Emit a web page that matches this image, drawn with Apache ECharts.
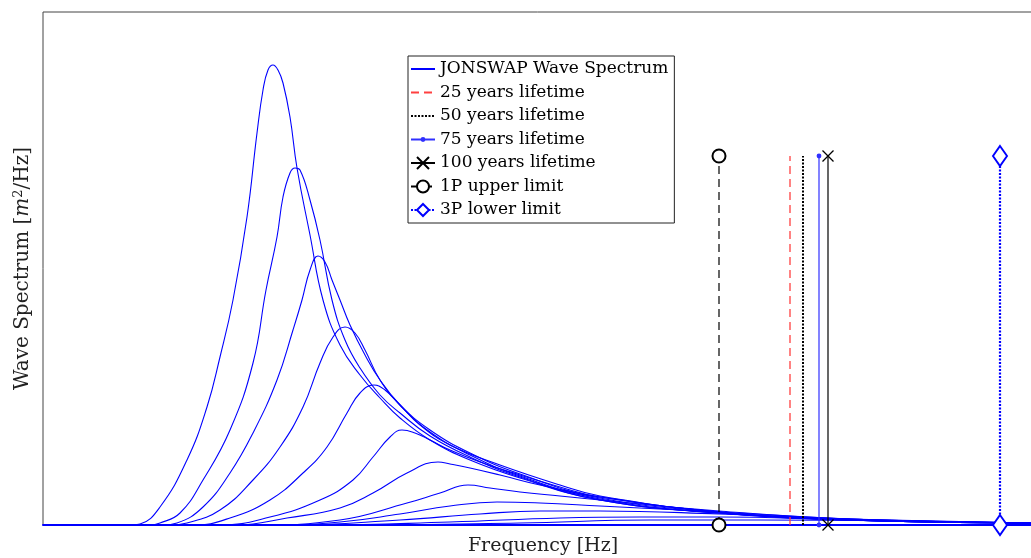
<!DOCTYPE html>
<html>
<head>
<meta charset="utf-8">
<script src="https://cdn.jsdelivr.net/npm/echarts@6/dist/echarts.min.js"></script>
<style>
  html, body { margin: 0; padding: 0; background: #fff; }
  #chart { width: 1031px; height: 558px; }
</style>
</head>
<body>
<div id="chart"></div>
<script>
// JONSWAP spectra, [frequency, spectrum]
const spectrum1 = [[0,0],[.087,0],[.097,.01],[.117,.18],[.144,.65],[.164,1.18],[.177,1.68],[.190,2.25],[.204,3.08],[.214,3.92],[.220,4.35],[.225,4.55],[.230,4.60],[.235,4.55],[.240,4.42],[.247,4.08],[.254,3.57],[.267,2.90],[.280,2.25],[.297,1.80],[.317,1.50],[.337,1.27],[.357,1.07],[.387,.85],[.427,.65],[.477,.47],[.557,.25],[.676,.12],[.807,.06],[.988,.02]];
const spectrum2 = [[0,0],[.107,0],[.117,.02],[.137,.12],[.160,.45],[.187,.95],[.210,1.62],[.223,2.35],[.234,2.88],[.240,3.28],[.247,3.52],[.252,3.57],[.257,3.55],[.267,3.25],[.277,2.85],[.289,2.25],[.302,1.85],[.317,1.57],[.337,1.30],[.357,1.12],[.387,.89],[.427,.68],[.477,.48],[.557,.25],[.676,.12],[.807,.05],[.988,.02]];
const spectrum3 = [[0,0],[.120,0],[.134,.02],[.160,.18],[.187,.52],[.210,.92],[.234,1.45],[.250,1.95],[.259,2.25],[.267,2.55],[.275,2.69],[.282,2.63],[.289,2.45],[.297,2.25],[.307,2.00],[.322,1.70],[.337,1.45],[.357,1.20],[.387,.93],[.427,.70],[.477,.49],[.557,.26],[.676,.12],[.807,.05],[.988,.02]];
const spectrum4 = [[0,0],[.127,0],[.144,.02],[.177,.15],[.210,.45],[.237,.78],[.260,1.18],[.277,1.62],[.290,1.88],[.302,1.98],[.312,1.92],[.322,1.75],[.337,1.45],[.357,1.20],[.387,.95],[.427,.72],[.477,.51],[.557,.27],[.676,.13],[.807,.05],[.988,.02]];
const spectrum5 = [[0,0],[.150,0],[.187,.07],[.227,.25],[.260,.52],[.284,.78],[.304,1.12],[.317,1.32],[.331,1.40],[.342,1.35],[.357,1.20],[.377,1.00],[.407,.80],[.457,.60],[.517,.40],[.557,.29],[.676,.13],[.807,.05],[.988,.02]];
const spectrum6 = [[0,0],[.177,0],[.227,.08],[.277,.25],[.310,.45],[.330,.68],[.347,.88],[.359,.95],[.372,.92],[.387,.85],[.407,.75],[.437,.63],[.477,.50],[.517,.38],[.557,.28],[.676,.13],[.807,.05],[.988,.02]];
const spectrum7 = [[0,0],[.194,0],[.244,.07],[.297,.17],[.330,.32],[.364,.52],[.395,.63],[.407,.61],[.427,.57],[.457,.50],[.497,.40],[.557,.28],[.676,.13],[.807,.05],[.988,.02]];
const spectrum8 = [[0,0],[.217,0],[.297,.05],[.364,.22],[.397,.32],[.425,.40],[.447,.37],[.477,.33],[.517,.29],[.557,.25],[.676,.14],[.807,.06],[.988,.02]];
const spectrum9 = [[0,0],[.227,0],[.297,.03],[.357,.11],[.407,.19],[.454,.23],[.497,.22],[.557,.19],[.676,.13],[.807,.06],[.988,.02]];
const spectrum10 = [[0,0],[.247,0],[.357,.05],[.437,.11],[.497,.14],[.557,.14],[.676,.11],[.807,.06],[.988,.02]];
const spectrum11 = [[0,0],[.277,0],[.407,.03],[.517,.07],[.597,.08],[.676,.08],[.807,.05],[.988,.02]];
const spectrum12 = [[0,0],[.307,0],[.477,.02],[.607,.05],[.717,.05],[.988,.02]];
const spectra = [spectrum1, spectrum2, spectrum3, spectrum4, spectrum5, spectrum6,
  spectrum7, spectrum8, spectrum9, spectrum10, spectrum11, spectrum12];

// frequency limits
const lineTop = 3.69;
const lifetimeNames = ['25 years lifetime', '50 years lifetime', '75 years lifetime', '100 years lifetime'];
const lifetimeFreqs = [0.747, 0.760, 0.776, 0.785];
const upper1P = 0.676;
const lower3P = 0.957;

const blue = '#0000ff';
const serif = 'DejaVu Serif';
// marker shapes (corner points fix the box so the glyph keeps its size)
const noMark = 'path://M0,0L0,0M10,10L10,10';
const dotMark = 'path://M0,0L0,0M10,10L10,10M3,5a2,2 0 1,0 4,0a2,2 0 1,0 -4,0z';
const crossMark = 'path://M0,0L10,10M10,0L0,10';

function vline(name, f, lineStyle, symbol, symbolSize, itemStyle) {
  return {
    name: name,
    type: 'line',
    data: [[f, 0], [f, lineTop]],
    lineStyle: lineStyle,
    symbol: symbol,
    symbolSize: symbolSize,
    showSymbol: symbol !== noMark,
    itemStyle: itemStyle,
    clip: false,
    z: 5
  };
}

const series = spectra.map(s => ({
  name: 'JONSWAP Wave Spectrum',
  type: 'line',
  data: s,
  smooth: 0.45,
  symbol: noMark,
  showSymbol: false,
  lineStyle: { color: blue, width: 1.1 },
  itemStyle: { color: blue }
}));

series.push(vline(lifetimeNames[0], lifetimeFreqs[0], { color: '#ff4040', width: 1.3, type: [8, 5] }, noMark, 8, { color: '#ff4040' }));
series.push(vline(lifetimeNames[1], lifetimeFreqs[1], { color: '#000', width: 2, type: [2, 1.5] }, noMark, 8, { color: '#000' }));
series.push(vline(lifetimeNames[2], lifetimeFreqs[2], { color: '#3030ff', width: 1.2, type: 'solid' }, dotMark, 12, { color: '#3030ff', borderWidth: 0 }));
series.push(vline(lifetimeNames[3], lifetimeFreqs[3], { color: '#000', width: 1.2, type: 'solid' }, crossMark, 11, { color: '#000', borderColor: '#000', borderWidth: 1.3 }));
series.push(vline('1P upper limit', upper1P, { color: '#000', width: 1.2, type: [8, 5] }, 'emptyCircle', 13, { color: '#000', borderColor: '#000', borderWidth: 1.2 }));
series.push(vline('3P lower limit', lower3P, { color: blue, width: 2.2, type: [2, 1.5] }, 'emptyDiamond', [14, 20], { color: blue, borderColor: blue, borderWidth: 2.5 }));

const chart = echarts.init(document.getElementById('chart'), null, { renderer: 'canvas' });
chart.setOption({
  animation: false,
  backgroundColor: '#fff',
  grid: {
    left: 43, top: 12, width: 1000, height: 513,
    outerBoundsMode: 'none',
    containLabel: false,
    show: true, borderColor: '#444', borderWidth: 1
  },
  legend: {
    orient: 'vertical',
    left: 408, top: 56,
    padding: [3, 6, 3, 2],
    itemGap: 3.5,
    itemWidth: 24,
    itemHeight: 15,
    backgroundColor: '#fff',
    borderColor: '#222',
    borderWidth: 1,
    borderRadius: 0,
    textStyle: { fontFamily: serif, fontSize: 17, color: '#000', lineHeight: 20 },
    data: ['JONSWAP Wave Spectrum', '25 years lifetime', '50 years lifetime',
      '75 years lifetime', '100 years lifetime', '1P upper limit', '3P lower limit']
  },
  xAxis: {
    type: 'value', min: 0, max: 1,
    name: 'Frequency [Hz]',
    nameLocation: 'middle',
    nameGap: 12,
    nameTextStyle: { fontFamily: serif, fontSize: 19, color: '#222', verticalAlign: 'top' },
    axisLine: { show: true, lineStyle: { color: blue, width: 2 } },
    axisTick: { show: false },
    axisLabel: { show: false },
    splitLine: { show: false }
  },
  yAxis: {
    type: 'value', min: 0, max: 5.13,
    name: 'Wave Spectrum [{i|m}{s|2}/Hz]',
    nameLocation: 'middle',
    nameGap: 9,
    nameTextStyle: {
      fontFamily: serif, fontSize: 20, color: '#222',
      rich: {
        i: { fontFamily: serif, fontSize: 20, fontStyle: 'italic', color: '#222' },
        s: { fontFamily: serif, fontSize: 13, color: '#222', verticalAlign: 'top', padding: [0, 0, 9, 0] }
      }
    },
    axisLine: { show: false },
    axisTick: { show: false },
    axisLabel: { show: false },
    splitLine: { show: false }
  },
  series: series
});
</script>
</body>
</html>
